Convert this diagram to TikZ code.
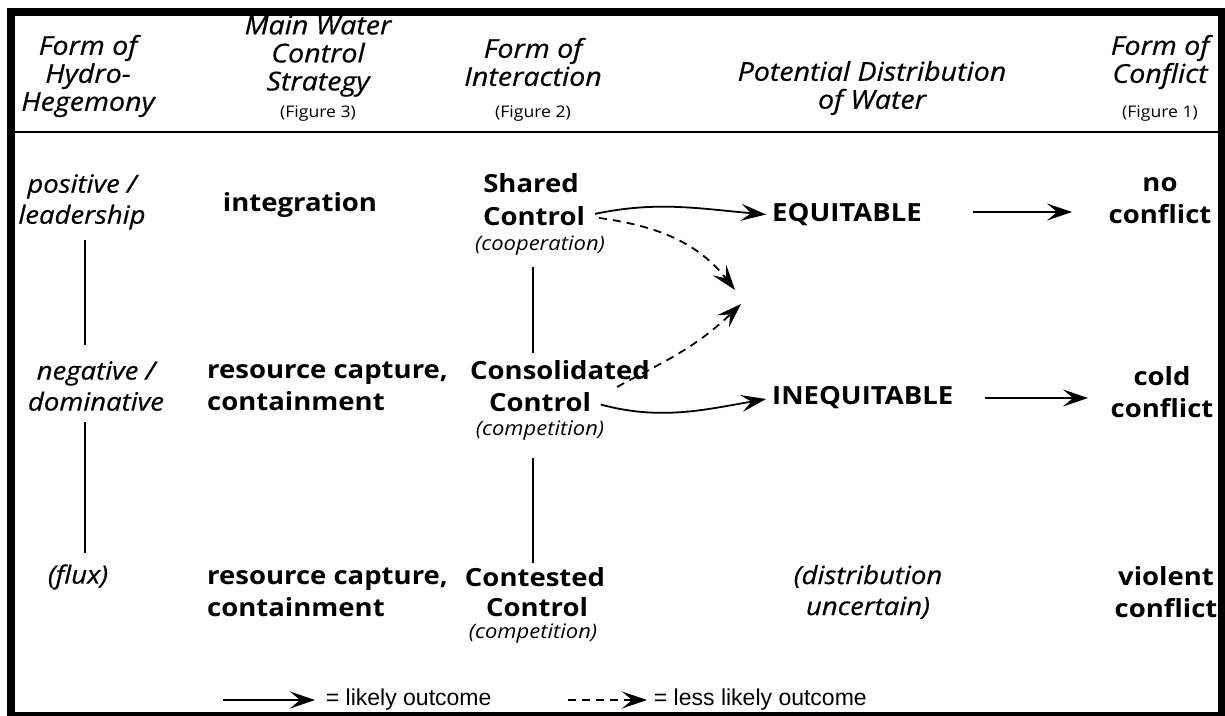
\documentclass[tikz,border=0pt]{standalone}
\usepackage{fontspec}
\setmainfont{Open Sans}[FakeStretch=1.1]
\newfontfamily\legendfont{Liberation Sans}
\usetikzlibrary{positioning,arrows.meta}

\begin{document}
\begin{tikzpicture}[x=1pt,y=-1pt,
    every node/.style={inner sep=0pt,align=center,font=\fontsize{25}{32}\selectfont\bfseries},
    hd/.style={font=\fontsize{26}{28}\selectfont\itshape\addfontfeatures{FakeBold=0.5}},
    fig/.style={font=\fontsize{16}{18}\selectfont},
    note/.style={font=\fontsize{20}{22}\selectfont\itshape},
    lbl/.style={font=\fontsize{25}{31}\selectfont\itshape\addfontfeatures{FakeBold=0.5}},
    leg/.style={font=\fontsize{23}{24}\legendfont},
    tip/.style={-{Stealth[length=25pt,width=17pt,inset=10pt]},line width=1.8pt},
    dsh/.style={dash pattern=on 8pt off 6pt},
    rule/.style={line width=1.4pt}]
  \useasboundingbox (0,0) rectangle (1225,715);
  \draw[line width=8pt] (11,12) rectangle (1222,716);
  % headers
  \node[hd] (h1) at (88,76) {Form of\\Hydro-\\Hegemony};
  \node[hd] (h2) at (318,56) {Main Water\\Control\\Strategy};
  \node[fig] (f3) at (318,114) {(Figure 3)};
  \node[hd] (h3) at (533,62) {Form of\\Interaction};
  \node[fig] (f2) at (533,114) {(Figure 2)};
  \node[hd] (h4) at (872,88) {Potential Distribution\\of Water};
  \node[hd] (h5) at (1160,62) {Form of\\Conflict};
  \node[fig] (f1) at (1160,114) {(Figure 1)};
  \draw[rule] (15,132) -- (1218,132);
  % row 1
  \node[lbl] (pos) at (82,202) {positive /\\leadership};
  \node (int) at (300,205) {integration};
  \node (sh) at (531,183) {Shared};
  \node (shc) at (534,216) {Control};
  \node[note] (coop) at (540,246) {(cooperation)};
  \node[anchor=west] (eq) at (772,215) {EQUITABLE};
  \node (no) at (1160,201) {no\\conflict};
  % row 2
  \node[lbl] (neg) at (96,386) {negative /\\dominative};
  \node[anchor=west,align=left] (rc1) at (207,386) {resource capture,\\containment};
  \node (cons) at (560,370) {Consolidated};
  \node (consc) at (540,402) {Control};
  \node[note] (comp1) at (540,431) {(competition)};
  \node[anchor=west] (ineq) at (772,398) {INEQUITABLE};
  \node (cold) at (1162,392) {cold\\conflict};
  % row 3
  \node[lbl] (flux) at (78,577) {(flux)};
  \node[anchor=west,align=left] (rc2) at (207,592) {resource capture,\\containment};
  \node (cont) at (535,577) {Contested};
  \node (contc) at (537,607) {Control};
  \node[note] (comp2) at (533,634) {(competition)};
  \node[lbl] (unc) at (868,592) {(distribution\\uncertain)};
  \node (viol) at (1166,592) {violent\\conflict};
  % vertical rules
  \draw[rule] (85,240) -- (85,345);
  \draw[rule] (85,422) -- (85,553);
  \draw[rule] (533,267) -- (533,353);
  \draw[rule] (533,458) -- (533,563);
  % outcomes
  \coordinate (m1) at (735,290);
  \coordinate (m2) at (741,304);
  \draw[tip,shorten <=10pt,shorten >=6pt] (shc.east) to[out=12,in=175] (eq.west);
  \draw[tip,dsh,shorten <=14pt] (shc.east) to[out=-8,in=128] (m1);
  \draw[tip,dsh,shorten <=30pt] (consc.east) to[out=30,in=-136] (m2);
  \draw[tip,shorten <=10pt,shorten >=6pt] (consc.east) to[out=-15,in=190] (ineq.west);
  \draw[tip] (973,212) -- (1072,212);
  \draw[tip] (985,398) -- (1088,398);
  % legend
  \coordinate (la) at (223,700);
  \coordinate (lb) at (315,700);
  \coordinate (lc) at (568,700);
  \coordinate (ld) at (647,700);
  \draw[tip] (la) -- (lb) node[leg,right=10pt] (l1) {= likely outcome};
  \draw[tip,dsh] (lc) -- (ld) node[leg,right=6pt] (l2) {= less likely outcome};
\end{tikzpicture}
\end{document}
